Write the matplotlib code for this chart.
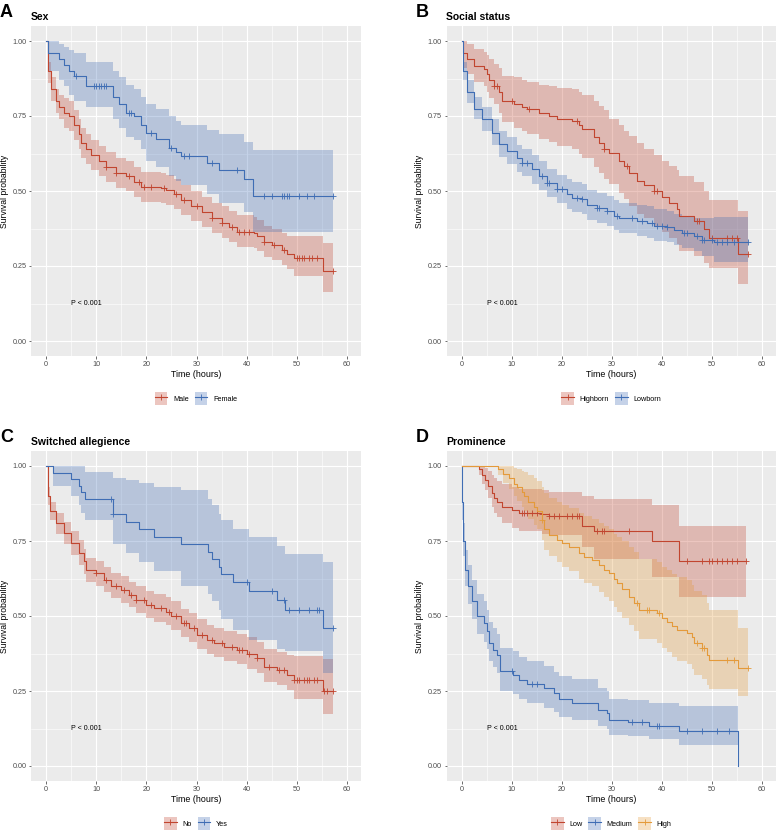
import numpy as np
import matplotlib
matplotlib.use("Agg")
import matplotlib.pyplot as plt
from matplotlib.patches import Patch
from matplotlib.lines import Line2D
from matplotlib.legend_handler import HandlerTuple

plt.rcParams['font.family'] = ['Liberation Sans', 'DejaVu Sans']

RED = "#C1452F"
BLUE = "#3F6DB4"
ORANGE = "#E49A3A"

# -----------------------------------------------------------------------------
# Data: step times, survival, CI lower/upper, censors
# -----------------------------------------------------------------------------
# A - Sex
male_t = [0, 0.3, 1, 2, 2.5, 3.5, 4.5, 5.5, 6.5, 7, 8, 9, 10.5, 12, 14, 16, 17.5, 19, 23, 24, 25.5, 27, 29,
          31, 33, 35, 36.5, 38, 41.5, 42, 43.5, 45, 47, 48, 49.5, 55.3, 57.2]
male_s = [1.0, 0.9, 0.84, 0.8, 0.78, 0.76, 0.75, 0.72, 0.69, 0.66, 0.64, 0.62, 0.6, 0.58, 0.56, 0.55, 0.53,
          0.515, 0.51, 0.505, 0.49, 0.47, 0.45, 0.43, 0.41, 0.395, 0.38, 0.365, 0.36, 0.35, 0.33, 0.32, 0.305,
          0.29, 0.277, 0.232, 0.232]
male_lo = [1.0, 0.86, 0.80, 0.76, 0.74, 0.71, 0.70, 0.67, 0.64, 0.61, 0.59, 0.57, 0.55, 0.53, 0.51, 0.50, 0.48,
           0.465, 0.46, 0.455, 0.44, 0.42, 0.40, 0.38, 0.36, 0.345, 0.33, 0.315, 0.31, 0.30, 0.28, 0.27, 0.255,
           0.24, 0.217, 0.165, 0.165]
male_hi = [1.0, 0.93, 0.88, 0.84, 0.82, 0.81, 0.80, 0.77, 0.74, 0.71, 0.69, 0.67, 0.65, 0.63, 0.61, 0.60, 0.58,
           0.565, 0.56, 0.555, 0.54, 0.52, 0.50, 0.48, 0.46, 0.45, 0.435, 0.42, 0.415, 0.405, 0.385, 0.375, 0.36,
           0.35, 0.35, 0.328, 0.328]
male_cens = [12, 14, 16.5, 18.5, 19.5, 21, 23.5, 26, 27.5, 30, 33, 35, 37, 38.5, 39.5, 40.5, 43.5, 45.5, 47.5,
             50, 50.5, 51, 51.5, 52.5, 53, 54, 57.2]

female_t = [0, 0.3, 2.5, 3.5, 4.5, 5.5, 8, 13.3, 14.5, 16, 17.5, 19, 20, 22, 24.5, 26, 27, 32, 34.5, 39.5, 41.3, 57.2]
female_s = [1.0, 0.96, 0.94, 0.92, 0.90, 0.885, 0.85, 0.814, 0.79, 0.761, 0.75, 0.72, 0.694, 0.675, 0.644, 0.63,
            0.617, 0.595, 0.57, 0.54, 0.483, 0.483]
female_lo = [1.0, 0.9, 0.87, 0.85, 0.82, 0.80, 0.78, 0.74, 0.71, 0.68, 0.67, 0.64, 0.60, 0.58, 0.55, 0.535, 0.52,
             0.49, 0.46, 0.43, 0.365, 0.365]
female_hi = [1.0, 1.0, 0.99, 0.98, 0.97, 0.96, 0.93, 0.9, 0.88, 0.855, 0.84, 0.815, 0.79, 0.775, 0.75, 0.735, 0.72,
             0.705, 0.69, 0.665, 0.637, 0.637]
female_cens = [6, 9.5, 10, 10.5, 11, 11.5, 12, 16.5, 17, 21, 25, 27.5, 28.5, 33, 38, 43.5, 45, 47, 47.5, 48, 48.5,
               50.5, 52, 53.5, 57.2]

# B - Social status
high_t = [0, 0.3, 1, 2.5, 4.5, 5, 5.5, 6.5, 7.5, 8, 10.5, 12, 13, 15.5, 17.5, 19, 22, 23.5, 24, 26.5, 27.5, 28.5,
          29.5, 31.5, 32.5, 33.5, 35, 36.5, 38.5, 40, 41.5, 43, 43.5, 46.5, 48.5, 49.5, 55.3, 57.2]
high_s = [1.0, 0.96, 0.94, 0.917, 0.906, 0.89, 0.87, 0.85, 0.83, 0.8, 0.79, 0.78, 0.772, 0.761, 0.75, 0.74, 0.733,
          0.72, 0.706, 0.68, 0.661, 0.64, 0.628, 0.6, 0.583, 0.56, 0.533, 0.52, 0.5, 0.48, 0.46, 0.44, 0.417, 0.4,
          0.372, 0.344, 0.289, 0.289]
high_lo = [1.0, 0.91, 0.89, 0.865, 0.85, 0.83, 0.81, 0.79, 0.76, 0.73, 0.71, 0.70, 0.69, 0.675, 0.665, 0.65, 0.64,
           0.625, 0.61, 0.58, 0.56, 0.54, 0.525, 0.495, 0.475, 0.45, 0.425, 0.41, 0.385, 0.365, 0.345, 0.325, 0.3,
           0.285, 0.26, 0.245, 0.19, 0.19]
high_hi = [1.0, 1.0, 0.99, 0.975, 0.965, 0.955, 0.94, 0.925, 0.91, 0.885, 0.88, 0.87, 0.865, 0.855, 0.85, 0.845,
           0.84, 0.83, 0.82, 0.8, 0.785, 0.77, 0.74, 0.72, 0.70, 0.685, 0.66, 0.64, 0.62, 0.60, 0.585, 0.57, 0.55,
           0.53, 0.50, 0.47, 0.433, 0.433]
high_cens = [6.5, 7, 10, 13.5, 23, 28.5, 33, 38.5, 39, 47, 47.5, 50, 53, 54, 55, 57.2]

low_t = [0, 0.3, 1, 2.5, 4, 6, 7.5, 9, 11, 12, 14, 15.5, 17, 19, 21, 22, 24, 25, 27, 29, 30.5, 31.5, 35, 37, 38.5,
         41, 42.5, 44, 46.5, 48, 50.5, 57.2]
low_s = [1.0, 0.9, 0.83, 0.775, 0.74, 0.695, 0.656, 0.633, 0.61, 0.594, 0.572, 0.55, 0.528, 0.506, 0.489, 0.478,
         0.472, 0.455, 0.444, 0.433, 0.418, 0.409, 0.4, 0.394, 0.385, 0.38, 0.37, 0.36, 0.35, 0.337, 0.33, 0.33]
low_lo = [1.0, 0.87, 0.795, 0.74, 0.70, 0.655, 0.615, 0.59, 0.565, 0.55, 0.525, 0.505, 0.48, 0.46, 0.44, 0.43,
          0.425, 0.405, 0.395, 0.385, 0.37, 0.36, 0.35, 0.345, 0.335, 0.33, 0.32, 0.31, 0.3, 0.285, 0.265, 0.265]
low_hi = [1.0, 0.93, 0.87, 0.815, 0.78, 0.74, 0.70, 0.68, 0.655, 0.64, 0.62, 0.6, 0.575, 0.555, 0.54, 0.53, 0.525,
          0.505, 0.495, 0.485, 0.47, 0.46, 0.455, 0.45, 0.44, 0.435, 0.425, 0.415, 0.41, 0.41, 0.415, 0.415]
low_cens = [12, 13, 16, 17, 17.5, 19, 20, 23, 24, 27, 27.5, 29, 31, 34, 36, 38, 39, 40, 41, 44.5, 45, 47, 48,
            48.5, 50, 51, 52, 53, 54.5, 57.2]

# C - Switched allegience
no_t = [0, 0.3, 0.7, 2, 3.5, 5, 6.5, 7.5, 8, 10, 11.5, 13, 15, 16.5, 18, 20, 21.5, 24, 25, 27, 28.5, 30, 32, 33.5,
        35.5, 38, 40, 42, 43.5, 46, 48, 49.5, 55.3, 57.2]
no_s = [1.0, 0.9, 0.85, 0.81, 0.776, 0.743, 0.71, 0.682, 0.654, 0.643, 0.621, 0.6, 0.588, 0.571, 0.555, 0.538,
        0.527, 0.515, 0.499, 0.477, 0.46, 0.438, 0.421, 0.41, 0.397, 0.388, 0.375, 0.36, 0.33, 0.319, 0.305,
        0.286, 0.249, 0.249]
no_lo = [1.0, 0.87, 0.82, 0.775, 0.74, 0.705, 0.67, 0.64, 0.615, 0.6, 0.58, 0.56, 0.545, 0.53, 0.51, 0.495, 0.48,
         0.47, 0.455, 0.43, 0.415, 0.39, 0.375, 0.365, 0.35, 0.34, 0.325, 0.31, 0.28, 0.27, 0.255, 0.222, 0.175,
         0.175]
no_hi = [1.0, 0.93, 0.88, 0.845, 0.815, 0.785, 0.755, 0.725, 0.695, 0.685, 0.665, 0.645, 0.635, 0.615, 0.6, 0.585,
         0.575, 0.565, 0.55, 0.525, 0.51, 0.49, 0.47, 0.46, 0.45, 0.44, 0.43, 0.415, 0.39, 0.38, 0.37, 0.366,
         0.357, 0.357]
no_cens = [10, 12, 14, 15.5, 17, 18, 19.5, 21, 23, 24.5, 26, 27.5, 28, 29.5, 31, 33, 35, 37, 38.5, 39, 40.5, 42,
           44.5, 46.5, 47.5, 49.5, 50, 50.5, 51.5, 52, 52.5, 53.5, 54, 55.5, 56, 57.2]

yes_t = [0, 1.3, 5, 6.5, 7, 7.7, 13.3, 16, 18.5, 21.5, 27, 32.3, 33, 34.5, 34.8, 37.3, 40.5, 46, 47.7, 55.3, 57.2]
yes_s = [1.0, 0.978, 0.956, 0.935, 0.912, 0.889, 0.839, 0.815, 0.789, 0.763, 0.739, 0.715, 0.69, 0.665, 0.641,
         0.615, 0.585, 0.554, 0.521, 0.46, 0.46]
yes_lo = [1.0, 0.935, 0.9, 0.87, 0.845, 0.82, 0.74, 0.71, 0.68, 0.65, 0.6, 0.575, 0.55, 0.52, 0.49, 0.455, 0.42,
          0.39, 0.385, 0.31, 0.31]
yes_hi = [1.0, 1.0, 1.0, 1.0, 1.0, 0.98, 0.96, 0.955, 0.945, 0.93, 0.92, 0.89, 0.87, 0.84, 0.82, 0.79, 0.765,
          0.735, 0.707, 0.68, 0.68]
yes_cens = [13, 13.3, 40, 45, 47.5, 48.5, 50.5, 52.5, 54, 54.5, 57.2]

# D - Prominence
plow_t = [0, 3.5, 4, 4.7, 5.3, 6, 6.5, 7, 8, 10, 11.5, 16, 17.5, 24, 26.5, 38, 43.5, 56.8]
plow_s = [1.0, 0.99, 0.97, 0.955, 0.935, 0.91, 0.895, 0.88, 0.865, 0.854, 0.845, 0.84, 0.834, 0.8, 0.785, 0.751,
          0.682, 0.682]
plow_lo = [1.0, 0.97, 0.94, 0.92, 0.895, 0.865, 0.845, 0.83, 0.81, 0.795, 0.785, 0.775, 0.77, 0.73, 0.69, 0.63,
           0.565, 0.565]
plow_hi = [1.0, 1.0, 1.0, 0.995, 0.985, 0.97, 0.96, 0.95, 0.94, 0.93, 0.925, 0.92, 0.915, 0.9, 0.89, 0.87, 0.8,
           0.8]
plow_cens = [12, 12.5, 13, 14, 15, 16, 17.5, 18.5, 19.5, 21, 22, 23, 23.5, 27, 28, 28.5, 33.5, 45, 48, 49.5, 50,
             51, 52, 53, 54, 55, 56.8]

pmed_t = [0, 0.1, 0.3, 0.7, 1.3, 2, 3, 4.5, 5, 5.5, 6.3, 7, 7.7, 10.3, 11.5, 13, 16.5, 18.5, 19.5, 22, 27.3, 29,
          29.5, 33.3, 37.5, 43.5, 55.3]
pmed_s = [1.0, 0.88, 0.75, 0.654, 0.6, 0.549, 0.5, 0.477, 0.45, 0.41, 0.388, 0.371, 0.316, 0.305, 0.288, 0.272,
          0.26, 0.244, 0.224, 0.211, 0.188, 0.177, 0.155, 0.146, 0.133, 0.116, 0.0]
pmed_lo = [1.0, 0.82, 0.7, 0.6, 0.54, 0.49, 0.44, 0.415, 0.39, 0.35, 0.33, 0.31, 0.25, 0.24, 0.225, 0.21, 0.195,
           0.18, 0.165, 0.155, 0.135, 0.125, 0.105, 0.1, 0.09, 0.07, 0.07]
pmed_hi = [1.0, 0.93, 0.81, 0.72, 0.67, 0.62, 0.575, 0.55, 0.52, 0.48, 0.46, 0.44, 0.395, 0.385, 0.365, 0.35,
           0.335, 0.315, 0.3, 0.29, 0.26, 0.25, 0.225, 0.22, 0.21, 0.2, 0.2]
pmed_cens = [10, 14, 15, 34, 36, 39, 39.5, 45, 48, 51, 53.5]

phigh_t = [0, 7.3, 8.3, 9.5, 10.5, 11, 12, 12.5, 13.2, 14.5, 15, 16, 16.5, 17.5, 19, 20, 21.5, 23.5, 24.5, 26,
           27.5, 28.5, 29.5, 30.5, 31, 32, 33.5, 34.5, 35.5, 39, 40, 41, 42, 43, 45, 46, 46.5, 48, 49, 49.5, 55.3,
           57.2]
phigh_s = [1.0, 0.99, 0.975, 0.96, 0.94, 0.93, 0.915, 0.9, 0.881, 0.865, 0.85, 0.82, 0.79, 0.77, 0.755, 0.743,
           0.73, 0.71, 0.698, 0.688, 0.67, 0.655, 0.643, 0.625, 0.61, 0.59, 0.565, 0.545, 0.521, 0.51, 0.493, 0.48,
           0.467, 0.455, 0.443, 0.43, 0.41, 0.394, 0.37, 0.355, 0.327, 0.327]
phigh_lo = [1.0, 0.97, 0.945, 0.925, 0.9, 0.885, 0.865, 0.85, 0.825, 0.805, 0.79, 0.755, 0.72, 0.7, 0.68, 0.665,
            0.65, 0.625, 0.61, 0.6, 0.58, 0.565, 0.55, 0.53, 0.515, 0.495, 0.47, 0.45, 0.425, 0.41, 0.395, 0.38,
            0.365, 0.35, 0.34, 0.325, 0.305, 0.29, 0.27, 0.258, 0.235, 0.235]
phigh_hi = [1.0, 1.0, 1.0, 1.0, 0.995, 0.99, 0.985, 0.98, 0.97, 0.96, 0.95, 0.93, 0.91, 0.895, 0.88, 0.87, 0.86,
            0.845, 0.835, 0.825, 0.81, 0.8, 0.79, 0.775, 0.765, 0.75, 0.73, 0.715, 0.69, 0.68, 0.665, 0.655, 0.64,
            0.63, 0.62, 0.605, 0.585, 0.57, 0.545, 0.52, 0.46, 0.46]
phigh_cens = [16, 35, 37, 37.5, 39.5, 47, 48, 48.5, 53, 54.5, 57.2]

panels = [
    ("A", "Sex", [("Male", RED, male_t, male_s, male_lo, male_hi, male_cens),
                  ("Female", BLUE, female_t, female_s, female_lo, female_hi, female_cens)]),
    ("B", "Social status", [("Highborn", RED, high_t, high_s, high_lo, high_hi, high_cens),
                            ("Lowborn", BLUE, low_t, low_s, low_lo, low_hi, low_cens)]),
    ("C", "Switched allegience", [("No", RED, no_t, no_s, no_lo, no_hi, no_cens),
                                  ("Yes", BLUE, yes_t, yes_s, yes_lo, yes_hi, yes_cens)]),
    ("D", "Prominence", [("Low", RED, plow_t, plow_s, plow_lo, plow_hi, plow_cens),
                         ("Medium", BLUE, pmed_t, pmed_s, pmed_lo, pmed_hi, pmed_cens),
                         ("High", ORANGE, phigh_t, phigh_s, phigh_lo, phigh_hi, phigh_cens)]),
]

# -----------------------------------------------------------------------------
# Figure
# -----------------------------------------------------------------------------
W, H = 777, 831
fig = plt.figure(figsize=(W / 100, H / 100), dpi=100)

# panel boxes in pixels: left, top, right, bottom
boxes = [(31, 26, 361, 356), (446.5, 26, 776, 356), (31, 451, 361, 781), (446.5, 451, 776, 781)]

for (letter, title, curves), (l, t, r, b) in zip(panels, boxes):
    ax = fig.add_axes([l / W, 1 - b / H, (r - l) / W, (b - t) / H])
    ax.set_facecolor("#EBEBEB")
    for sp in ax.spines.values():
        sp.set_visible(False)
    ax.set_xlim(-3.0, 62.8)
    ax.set_ylim(-0.05, 1.05)
    ax.set_xticks([0, 10, 20, 30, 40, 50, 60])
    ax.set_xticks(np.arange(5, 61, 10), minor=True)
    ax.set_yticks([0, 0.25, 0.5, 0.75, 1.0])
    ax.set_yticklabels(["0.00", "0.25", "0.50", "0.75", "1.00"])
    ax.set_yticks([0.125, 0.375, 0.625, 0.875], minor=True)
    ax.grid(which="major", color="white", lw=0.8)
    ax.grid(which="minor", color="white", lw=0.4)
    ax.set_axisbelow(True)
    ax.tick_params(which="major", length=1.8, width=0.5, color="#333333", labelsize=5.2,
                   labelcolor="#4D4D4D", pad=1.5)
    ax.tick_params(which="minor", length=0)
    ax.set_xlabel("Time (hours)", fontsize=6.4, labelpad=1.5)
    ax.set_ylabel("Survival probability", fontsize=6.2, labelpad=2.5)

    handles, labels = [], []
    for name, col, tt, ss, lo, hi, cens in curves:
        ax.fill_between(tt, lo, hi, step="post", color=col, alpha=0.3, lw=0)
    for name, col, tt, ss, lo, hi, cens in curves:
        ax.step(tt, ss, where="post", color=col, lw=0.8)
        idx = np.searchsorted(tt, cens, side="right") - 1
        ax.plot(cens, np.asarray(ss)[idx], ls="none", marker="+", ms=4, mew=0.6, color=col)
        handles.append((Patch(facecolor=col, alpha=0.3, lw=0),
                        Line2D([], [], color=col, lw=0.8, marker="+", ms=4, mew=0.6)))
        labels.append(name)

    ax.text(5, 0.125, "P < 0.001", fontsize=5.1, ha="left", va="center")

    ax.legend(handles, labels, handler_map={tuple: HandlerTuple(ndivide=1)}, loc="center",
              bbox_to_anchor=(0.5, -0.13), ncol=len(labels), frameon=False, fontsize=5.2,
              handlelength=1.75, handleheight=2.4, handletextpad=0.8, columnspacing=0.8)

    fig.text((l - 31) / W, 1 - (t - 9) / H, letter, fontsize=13, fontweight="bold", ha="left",
             va="baseline")
    fig.text(l / W, 1 - (t - 6) / H, title, fontsize=7.5, fontweight="bold", ha="left", va="baseline")

fig.savefig("out.png", dpi=100)
